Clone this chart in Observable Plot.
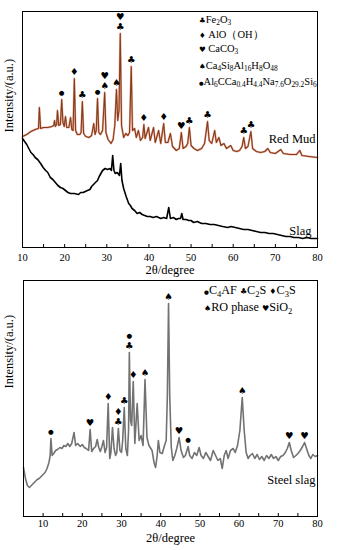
<!DOCTYPE html>
<html>
<head>
<meta charset="utf-8">
<script src="https://cdn.jsdelivr.net/npm/d3@7"></script>
<script src="https://cdn.jsdelivr.net/npm/@observablehq/plot@0.6"></script>
<style>
  html, body { margin: 0; padding: 0; background: #fff; }
  #wrap { position: relative; width: 337px; height: 550px; overflow: hidden; }
  #top, #bot { display: block; line-height: 0; }
  .leg { position: absolute; font-family: "Liberation Serif", serif; color: #000; white-space: nowrap; line-height: 14px; }
  .leg sub { font-size: 70%; vertical-align: -0.3em; line-height: 0; }
  .sym { font-family: "DejaVu Sans", sans-serif; }
</style>
</head>
<body>
<div id="wrap">
  <div id="top"></div>
  <div id="bot"></div>
</div>
<script>
// ---------- DATA ----------
// Top panel: Red Mud
const redMudDeg = [10,11,12,13,13.8,14.0,14.3,15,16,17,17.4,17.6,17.8,18.1,18.3,18.6,19.0,19.3,19.6,19.9,20.2,20.5,21.0,21.4,21.7,22.0,22.3,22.6,23.0,23.6,23.9,24.2,24.5,25.0,25.8,26.4,26.9,27.2,27.5,27.8,28.1,28.5,29.0,29.5,29.8,30.3,31.0,31.5,31.9,32.3,32.6,32.9,33.2,33.5,34.0,34.5,35.0,35.4,35.8,36.1,36.6,37.0,37.5,38.0,38.5,38.8,39.1,39.9,40.3,41.1,41.5,42.3,42.8,43.5,43.9,44.5,45.1,45.6,46.5,47.2,47.7,48.1,48.8,49.2,49.6,50.0,50.7,51.5,52.5,53.2,53.9,54.3,54.9,55.6,56.0,56.6,57.1,57.8,58.4,59.4,60.0,60.8,61.5,62.1,62.5,62.9,63.5,64.2,64.6,65.5,66.5,67.5,68.2,68.8,70.0,71.3,71.9,73.5,75.0,75.8,76.3,78.0,80.0];
const redMudInt = [111,113,116,118,119,140,119,120,120,121,122,127,121,123,137,122,123,148,125,121,131,120,120,130,118,117,169,117,113,113,115,146,114,111,110,112,124,113,117,149,115,113,117,155,115,108,104,108,122,158,127,137,214,122,110,114,112,115,181,117,119,110,117,107,110,123,109,120,107,120,105,117,104,124,105,105,114,101,97,99,115,99,101,104,120,102,99,97,99,104,126,107,104,117,105,110,102,104,99,102,97,96,97,101,110,99,101,116,99,96,95,96,99,95,94,98,94,93,93,97,92,91,90];
// Top panel: Slag
const slagDeg = [10,10.5,11,11.5,12,12.5,13,13.6,14.3,14.9,15.5,16.0,16.6,17.2,17.8,18.4,19,19.6,20.2,20.8,21.4,22.3,23.3,23.8,24.4,25.4,26.0,26.4,27.3,27.8,28.2,28.6,29,29.6,30.2,30.8,31.1,31.4,31.7,32.0,32.5,33.0,33.3,33.6,34.0,34.6,35.2,35.6,36.0,36.6,37.2,37.8,38.4,39.0,39.6,40.3,41.0,41.8,42.8,43.5,44.2,44.7,45.1,45.8,46.5,47.0,47.5,47.8,48.1,48.8,49.5,50.0,50.6,51.5,52.5,53.5,54.5,55.5,56.5,57.5,58.7,59.5,60.5,61.5,62.5,63.5,64.5,65.5,66.5,67.5,68.5,69.5,70.5,71.5,72.5,73.5,74.4,75.5,76.5,77.5,78.5,79.3,80.0];
const slagInt = [109,106,103,99,95,93,90,88,84,80,77,75,70,68,65,62,60,59,57,55,54,54,53,55,55,57,58,61,65,67,71,74,77,79,78,79,77,92,77,74,75,72,84,67,59,51,44,42,39,37,34,35,33,32,31,31,30,31,29,30,29,40,29,30,28,29,29,34,28,28,27,27,25,26,24,24,23,23,22,21,20,21,20,19,18,18,17,16,15,15,14,14,13,12,11,11,10,10,9,10,9,9,9];
// Bottom panel: Steel slag
const steelDeg = [5.0,5.5,6.0,6.5,7.0,7.5,8.0,8.5,9.0,9.5,10.0,10.5,11.0,11.5,11.8,12.0,12.3,12.7,13.2,13.7,14.3,14.8,15.3,15.8,16.3,16.8,17.3,17.9,18.3,18.8,19.5,20.0,20.5,21.0,21.6,22.0,22.4,22.9,23.4,23.8,24.2,24.6,25.0,25.4,25.8,26.2,26.6,27.0,27.3,27.7,28.1,28.5,28.8,29.2,29.6,30.0,30.3,30.7,31.1,31.5,31.8,32.0,32.3,32.6,33.0,33.4,34.0,34.5,35.0,35.5,36.0,36.5,37.0,37.8,38.3,38.7,39.1,39.4,39.8,40.4,40.9,41.4,41.7,42.0,42.3,42.7,43.1,43.6,44.1,44.7,45.2,45.8,46.3,47.0,47.4,48.0,48.6,49.2,49.8,50.3,50.9,51.5,52.1,52.7,53.4,54.0,54.6,55.2,55.7,56.2,56.7,57.2,57.8,58.5,59.0,59.6,60.2,60.8,61.3,61.8,62.3,62.8,63.4,64.0,64.6,65.2,65.8,66.4,67.0,67.6,68.2,68.8,69.4,70.0,70.6,71.2,71.8,72.3,72.8,73.3,73.9,74.5,75.0,75.6,76.2,76.7,77.2,77.8,78.3,78.8,79.4,80.0];
const steelInt = [49,38,31,29,31,33,35,37,38,40,42,44,48,54,61,78,61,63,66,67,69,68,71,70,73,70,73,84,71,73,70,72,69,68,66,87,65,68,70,77,69,65,70,76,64,69,113,58,64,89,68,61,64,88,66,64,76,109,68,61,86,164,96,91,135,73,113,76,81,71,137,79,71,66,54,49,61,76,64,63,70,76,121,213,121,69,56,61,68,79,66,59,61,70,61,58,64,61,69,61,58,64,60,56,66,61,56,58,48,61,66,58,66,68,64,71,86,119,86,64,58,61,63,58,62,57,60,56,61,58,62,58,60,56,60,61,64,68,74,66,59,61,63,66,70,74,68,61,58,62,60,61];

// Phase markers (peak position, peak intensity, symbol, stack level)
const topMarkDeg = [19.3,22.3,24.2,27.8,29.5,29.5,32.3,33.2,33.2,35.8,38.8,43.5,47.7,49.6,53.9,62.5,64.2];
const topMarkInt = [148,169,146,149,155,155,158,214,214,181,123,124,115,120,126,110,116];
const topMarkSym = ["●","♦","♣","●","♠","♥","♠","♣","♥","♣","♦","♦","♥","♣","♣","♣","♣"];
const topMarkLvl = [0,0,0,0,0,1,0,0,1,0,0,0,0,0,0,0,0];

const botMarkDeg = [12.0,22.0,26.6,29.2,29.2,30.7,32.0,32.0,33.0,36.0,42.0,44.7,47.0,60.8,72.8,76.7];
const botMarkInt = [78,87,113,88,88,109,164,164,135,137,213,79,70,119,74,74];
const botMarkSym = ["●","♥","♦","♣","♦","♣","♣","●","♦","♠","♠","♥","●","♠","♥","♥"];
const botMarkLvl = [0,0,0,0,1,0,0,1,0,0,0,0,0,0,0,0];

// Tick labels
const topTickLabels = [10,20,30,40,50,60,70,80];
const topTickMarks = [10,15,20,25,30,35,40,45,50,55,60,65,70,75,80];
const botTickLabels = [10,20,30,40,50,60,70,80];
const botTickMarks = [10,15,20,25,30,35,40,45,50,55,60,65,70,75];

// Text
const xTitle = "2θ/degree";
const yTitle = "Intensity/(a.u.)";
const topLegendSym = ["♣","♦","♥","♠","●"];
const topLegendHtml = ["Fe<sub>2</sub>O<sub>3</sub>", "&nbsp;AlO（OH）", "&nbsp;CaCO<sub>3</sub>", "Ca<sub>4</sub>Si<sub>8</sub>Al<sub>16</sub>H<sub>8</sub>O<sub>48</sub>", "Al<sub>6</sub>CCa<sub>0.4</sub>H<sub>4.4</sub>Na<sub>7.6</sub>O<sub>29.2</sub>Si<sub>6</sub>"];
const botLegendRows = [
  [["●","C<sub>4</sub>AF"],["♣","C<sub>2</sub>S"],["♦","C<sub>3</sub>S"]],
  [["♠","RO phase"],["♥","SiO<sub>2</sub>"]]
];

// ---------- BUILD ----------
const zip = (xs, ys) => xs.map((x, i) => ({x, y: ys[i]}));
const redMud = zip(redMudDeg, redMudInt);
const slag = zip(slagDeg, slagInt);
const steel = zip(steelDeg, steelInt);
const marks = (d, v, s, l) => d.map((x, i) => ({x, y: v[i], s: s[i], l: l[i]}));
const topMarks = marks(topMarkDeg, topMarkInt, topMarkSym, topMarkLvl);
const botMarks = marks(botMarkDeg, botMarkInt, botMarkSym, botMarkLvl);

const serif = "Liberation Serif";
const symFont = "DejaVu Sans";
const symSize = d => d.s === "●" ? 6.5 : 9.5;
const symMarks = (data) => [
  Plot.text(data.filter(d => d.l === 0), {x: "x", y: "y", text: "s", dy: -7, fontSize: symSize, fontFamily: symFont, fill: "#000"}),
  Plot.text(data.filter(d => d.l === 1), {x: "x", y: "y", text: "s", dy: -17, fontSize: symSize, fontFamily: symFont, fill: "#000"})
];

const topPlot = Plot.plot({
  width: 337, height: 278,
  marginTop: 11, marginBottom: 31, marginLeft: 22, marginRight: 20,
  x: {domain: [10, 80]},
  y: {domain: [0, 236], axis: null},
  style: {fontFamily: serif, fontSize: "10.5px", background: "transparent", color: "#000"},
  marks: [
    Plot.line(redMud, {x: "x", y: "y", stroke: "#e0301c", strokeWidth: 2, strokeOpacity: 0.45}),
    Plot.line(redMud, {x: "x", y: "y", stroke: "#7e4018", strokeWidth: 1.1}),
    Plot.line(slag, {x: "x", y: "y", stroke: "#000", strokeWidth: 1.6}),
    ...symMarks(topMarks),
    Plot.text(["Red Mud"], {frameAnchor: "top-right", textAnchor: "end", dx: -2, dy: 123, fontSize: 12.5, fontFamily: serif}),
    Plot.text(["Slag"], {frameAnchor: "top-right", textAnchor: "end", dx: -6, dy: 215, fontSize: 12.5, fontFamily: serif}),
    Plot.ruleX(topTickMarks, {x: d => d, y1: 0, y2: 3, stroke: "#000"}),
    Plot.axisX({ticks: topTickLabels, tickSize: 0, tickPadding: 6, label: null, fontSize: 10.5}),
    Plot.text([xTitle], {frameAnchor: "bottom", dy: 26, fontSize: 12.5, fontFamily: serif}),
    Plot.text([yTitle], {frameAnchor: "left", rotate: -90, dx: -14, dy: 3, fontSize: 12.5, fontFamily: serif}),
    Plot.frame({stroke: "#000", strokeWidth: 1})
  ]
});

const botPlot = Plot.plot({
  width: 337, height: 272,
  marginTop: 2, marginBottom: 34, marginLeft: 23, marginRight: 20,
  x: {domain: [5, 80]},
  y: {domain: [0, 236], axis: null},
  style: {fontFamily: serif, fontSize: "10.5px", background: "transparent", color: "#000"},
  marks: [
    Plot.line(steel, {x: "x", y: "y", stroke: "#727272", strokeWidth: 1.6}),
    ...symMarks(botMarks),
    Plot.text(["Steel slag"], {frameAnchor: "top-right", textAnchor: "end", dx: -2, dy: 195, fontSize: 12.5, fontFamily: serif}),
    Plot.ruleX(botTickMarks, {x: d => d, y1: 0, y2: 3, stroke: "#000"}),
    Plot.axisX({ticks: botTickLabels, tickSize: 0, tickPadding: 3, label: null, fontSize: 10.5}),
    Plot.text([xTitle], {frameAnchor: "bottom", dy: 25, fontSize: 12.5, fontFamily: serif}),
    Plot.text([yTitle], {frameAnchor: "left", rotate: -90, dx: -15, dy: -10, fontSize: 12.5, fontFamily: serif}),
    Plot.frame({stroke: "#000", strokeWidth: 1})
  ]
});

document.getElementById("top").appendChild(topPlot);
document.getElementById("bot").appendChild(botPlot);

// Legends (HTML overlay, real text with subscripts)
const wrap = document.getElementById("wrap");
const legSym = (s, base) => `<span class="sym" style="font-size:${s === "●" ? base * 0.7 : base}px">${s}</span>`;
const topLegendY = [20, 34.5, 49, 66, 82];
topLegendSym.forEach((s, i) => {
  const div = document.createElement("div");
  div.className = "leg";
  div.style.left = "199px";
  div.style.top = (topLegendY[i] - 7) + "px";
  div.style.fontSize = "10.5px";
  div.innerHTML = legSym(s, 7.5) + topLegendHtml[i];
  wrap.appendChild(div);
});
const botLegendY = [290, 307];
botLegendRows.forEach((row, i) => {
  const div = document.createElement("div");
  div.className = "leg";
  div.style.left = "204px";
  div.style.top = (botLegendY[i] - 7) + "px";
  div.style.fontSize = "12.2px";
  div.innerHTML = row.map(([s, t]) => legSym(s, 8) + t).join(" ");
  wrap.appendChild(div);
});
</script>
</body>
</html>
